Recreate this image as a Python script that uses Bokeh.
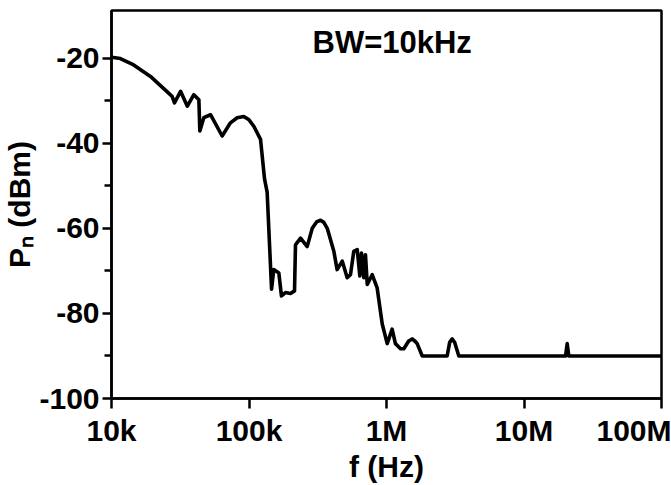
from bokeh.plotting import figure
from bokeh.embed import file_html
from bokeh.resources import INLINE
from bokeh.models import FixedTicker, CustomJSTickFormatter, Label, Range1d

# ---- data ----
freq_hz = [10000, 11600, 14500, 19200, 27600, 28700, 31800, 35600, 39700, 43200,
           43900, 46900, 52500, 63800, 73300, 82000, 91600, 100000, 108400, 121300,
           129700, 135500, 143200, 145900, 151400, 164800, 172200, 184100, 200400, 214300,
           217800, 237100, 264900, 288400, 310000, 331100, 350000, 370700, 414000, 437500,
           476400, 517600, 547000, 578100, 612400, 639700, 657700, 683900, 703100, 724400,
           787000, 855100, 931100, 1012000, 1099000, 1161000, 1265000, 1337000, 1450000, 1538000,
           1620000, 1671000, 1820000, 2761000, 2880000, 3006000, 3130000, 3357000, 20040000, 20610000,
           21180000, 100000000]
pn_dbm = [-19.8, -20.1, -21.6, -24.3, -29.0, -30.5, -27.8, -31.3, -28.6, -29.8,
          -37.1, -34.0, -33.3, -38.3, -35.2, -34.0, -33.7, -34.5, -36.0, -39.1,
          -48.4, -51.5, -68.5, -74.3, -69.7, -70.5, -75.9, -75.1, -75.3, -74.7,
          -63.9, -62.3, -64.3, -60.0, -58.5, -58.1, -58.6, -60.0, -65.4, -69.7,
          -67.7, -71.6, -70.9, -65.4, -65.0, -71.2, -65.8, -71.6, -66.2, -73.2,
          -70.9, -74.0, -82.5, -87.1, -83.7, -87.1, -88.3, -88.3, -86.5, -86.0,
          -86.6, -87.1, -90.0, -90.0, -86.8, -86.0, -86.8, -90.0, -90.0, -87.1,
          -90.0, -90.0]

x_ticks = [1e4, 1e5, 1e6, 1e7, 1e8]
x_tick_labels = ["10k", "100k", "1M", "10M", "100M"]
y_ticks = [-100, -80, -60, -40, -20]
y_tick_labels = ["-100", "-80", "-60", "-40", "-20"]
y_minor_ticks = [-90, -70, -50, -30]
annotation_text = "BW=10kHz"
annotation_pos = (1.1e6, -16.3)

FONT = "Liberation Sans"

p = figure(width=671, height=485, x_axis_type="log",
           x_range=Range1d(1e4, 1e8), y_range=Range1d(-100, -8.8),
           output_backend="svg", toolbar_location=None,
           min_border_left=111, min_border_right=10, min_border_top=10, min_border_bottom=83)

p.line(freq_hz, pn_dbm, line_color="black", line_width=3.6, line_join="round", line_cap="round")

p.grid.visible = False
p.outline_line_color = "black"
p.outline_line_width = 2.5
p.background_fill_color = "white"
p.border_fill_color = "white"

# x axis
xa = p.xaxis[0]
xa.ticker = FixedTicker(ticks=x_ticks, minor_ticks=[])
xa.formatter = CustomJSTickFormatter(args=dict(xt=x_ticks, xl=x_tick_labels), code="""
    for (let i = 0; i < xt.length; i++) {
        if (Math.abs(Math.log10(xt[i]) - Math.log10(tick)) < 1e-6) return xl[i];
    }
    return "";
""")
xa.axis_label = "f (Hz)"
xa.axis_label_text_font = FONT
xa.axis_label_text_font_style = "bold"
xa.axis_label_text_color = "black"
xa.axis_label_text_font_size = "30px"
xa.axis_label_standoff = 0
xa.major_label_text_font = FONT
xa.major_label_text_font_style = "bold"
xa.major_label_text_color = "black"
xa.major_label_text_font_size = "30px"
xa.major_label_standoff = 5
xa.major_tick_out = 10
xa.major_tick_in = 0
xa.minor_tick_out = 0
xa.minor_tick_in = 0
xa.axis_line_width = 2.5
xa.major_tick_line_width = 2.5
xa.axis_line_color = "black"
xa.major_tick_line_color = "black"

# y axis
ya = p.yaxis[0]
ya.ticker = FixedTicker(ticks=y_ticks, minor_ticks=y_minor_ticks)
ya.formatter = CustomJSTickFormatter(args=dict(yt=y_ticks, yl=y_tick_labels), code="""
    for (let i = 0; i < yt.length; i++) {
        if (Math.abs(yt[i] - tick) < 1e-6) return yl[i];
    }
    return "";
""")
ya.axis_label = "P\u2099 (dBm)"
ya.axis_label_text_font = FONT
ya.axis_label_text_font_style = "bold"
ya.axis_label_text_color = "black"
ya.axis_label_text_font_size = "30px"
ya.axis_label_standoff = 0
ya.major_label_text_font = FONT
ya.major_label_text_font_style = "bold"
ya.major_label_text_color = "black"
ya.major_label_text_font_size = "30px"
ya.major_label_standoff = 3
ya.major_tick_out = 9
ya.major_tick_in = 0
ya.minor_tick_out = 7
ya.minor_tick_in = 0
ya.axis_line_width = 2.5
ya.major_tick_line_width = 2.5
ya.minor_tick_line_width = 2.5
ya.axis_line_color = "black"
ya.major_tick_line_color = "black"
ya.minor_tick_line_color = "black"

p.add_layout(Label(x=annotation_pos[0], y=annotation_pos[1], text=annotation_text,
                   text_align="center", text_baseline="middle",
                   text_font=FONT, text_font_style="bold",
                   text_font_size="31px", text_color="black"))

open("out.html", "w").write(file_html(p, INLINE))
